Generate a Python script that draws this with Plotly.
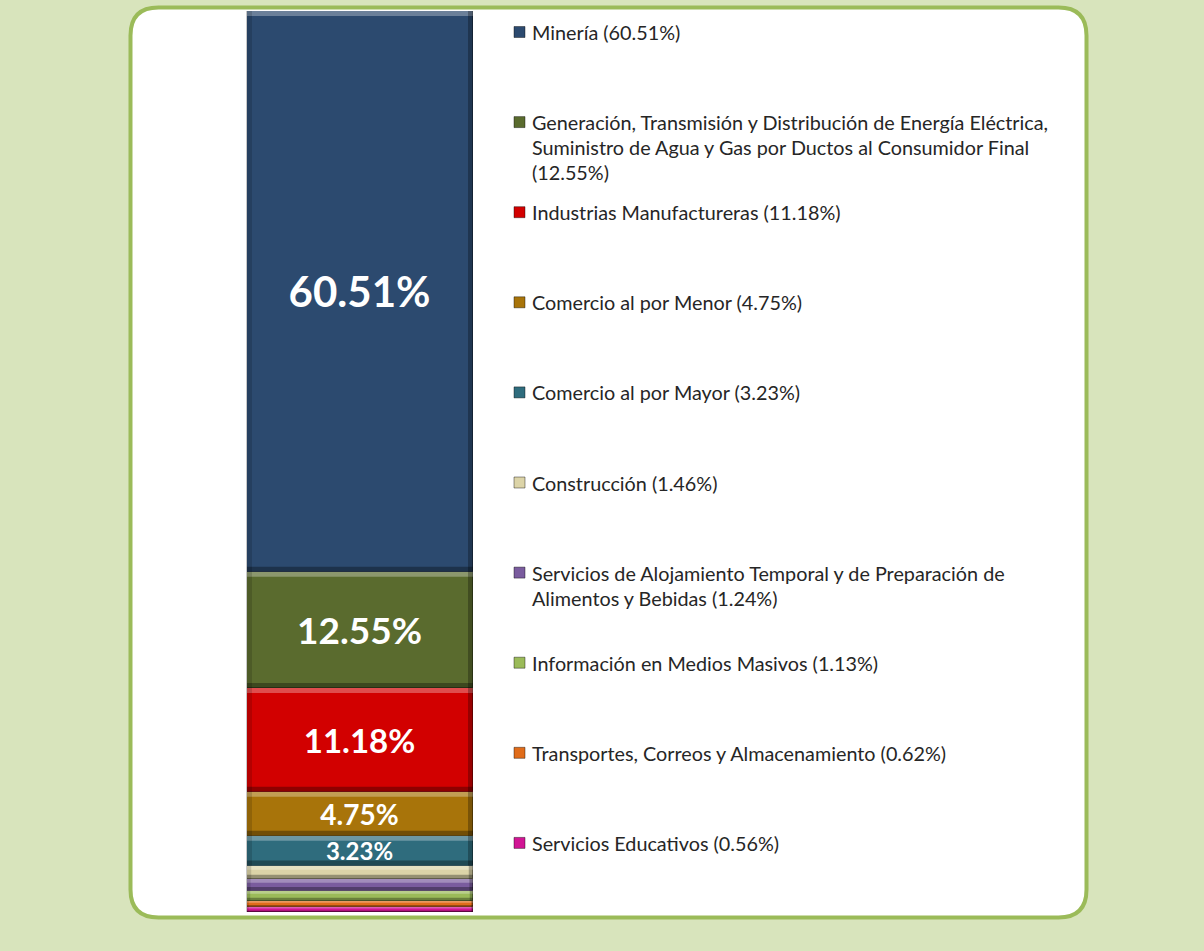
import plotly.graph_objects as go

# Participación por sector (porcentaje), de arriba hacia abajo en la barra
sectores = [
    "Minería",
    "Generación, Transmisión y Distribución de Energía Eléctrica,<br>Suministro de Agua y Gas por Ductos al Consumidor Final<br>",
    "Industrias Manufactureras",
    "Comercio al por Menor",
    "Comercio al por Mayor",
    "Construcción",
    "Servicios de Alojamiento Temporal y de Preparación de<br>Alimentos y Bebidas",
    "Información en Medios Masivos",
    "Transportes, Correos y Almacenamiento",
    "Servicios Educativos",
]
porcentajes = [60.51, 12.55, 11.18, 4.75, 3.23, 1.46, 1.24, 1.13, 0.62, 0.56]
colores = ["#2C4A6F", "#5A6B2E", "#D20000", "#A8740A", "#2F6C7D",
           "#DCD4A8", "#7A5C9E", "#9BBB59", "#E06C1A", "#D11594"]
# tamaño de la etiqueta dentro de cada segmento (None = sin etiqueta)
tam_etiqueta = [42, 37, 33, 28, 24, None, None, None, None, None]

W, H = 1204, 951
ML, MR, MT, MB = 247, 731, 11, 39
PW, PH = W - ML - MR, H - MT - MB

def px_x(px):
    return (px - ML) / PW

def px_y(py):
    return (H - MB - py) / PH

fig = go.Figure()

# la barra se apila desde abajo: se agregan los sectores en orden inverso
for i in reversed(range(len(sectores))):
    v = porcentajes[i]
    size = tam_etiqueta[i]
    fig.add_trace(go.Bar(
        x=["Sector"], y=[v],
        name=sectores[i].replace("<br>", " "),
        marker=dict(color=colores[i], line=dict(color="rgba(0,0,0,0.35)", width=1)),
        width=1,
        text=[f"{v:.2f}%"] if size else None,
        textposition="inside" if size else "none",
        insidetextanchor="middle",
        textfont=dict(family="Lato", size=size or 10, color="white", weight="bold"),
        constraintext="none",
        hovertemplate="%{fullData.name}: %{y:.2f}%<extra></extra>",
        showlegend=False,
    ))

shapes = []

# panel blanco redondeado con borde verde
x0, x1, y0, y1, r = 130.5, 1086.5, 7.5, 917.5, 28
def P(px, py):
    return f"{px_x(px):.5f},{px_y(py):.5f}"
panel = (f"M {P(x0 + r, y0)} L {P(x1 - r, y0)} Q {P(x1, y0)} {P(x1, y0 + r)} "
         f"L {P(x1, y1 - r)} Q {P(x1, y1)} {P(x1 - r, y1)} "
         f"L {P(x0 + r, y1)} Q {P(x0, y1)} {P(x0, y1 - r)} "
         f"L {P(x0, y0 + r)} Q {P(x0, y0)} {P(x0 + r, y0)} Z")
shapes.append(dict(type="path", path=panel, xref="paper", yref="paper",
                   fillcolor="white", line=dict(color="#9BBB59", width=4), layer="below"))

# biselado de cada segmento: brillo arriba, sombra abajo y en los costados
px_por_unidad = PH / sum(porcentajes)
base = 0.0
for i in reversed(range(len(sectores))):
    v = porcentajes[i]
    top = base + v
    b = max(1.5, min(5.0, v * px_por_unidad / 3.2))
    shapes.append(dict(type="rect", xref="paper", yref="y", ysizemode="pixel", yanchor=top,
                       x0=0, x1=1, y0=-b, y1=0, fillcolor="rgba(255,255,255,0.30)",
                       line=dict(width=0), layer="above"))
    shapes.append(dict(type="rect", xref="paper", yref="y", ysizemode="pixel", yanchor=base,
                       x0=0, x1=1, y0=0, y1=b, fillcolor="rgba(0,0,0,0.32)",
                       line=dict(width=0), layer="above"))
    shapes.append(dict(type="rect", xref="paper", yref="y", xsizemode="pixel", xanchor=0,
                       x0=0, x1=b, y0=base, y1=top, fillcolor="rgba(0,0,0,0.14)",
                       line=dict(width=0), layer="above"))
    shapes.append(dict(type="rect", xref="paper", yref="y", xsizemode="pixel", xanchor=1,
                       x0=-b, x1=0, y0=base, y1=top, fillcolor="rgba(0,0,0,0.28)",
                       line=dict(width=0), layer="above"))
    base = top

# leyenda a la derecha de la barra
annotations = []
leg_top, leg_paso, linea = 32, 90.1, 25
for i, (nombre, v, c) in enumerate(zip(sectores, porcentajes, colores)):
    sep = "" if nombre.endswith("<br>") else " "
    etiqueta = f"{nombre}{sep}({v:.2f}%)"
    yc = leg_top + leg_paso * i
    shapes.append(dict(type="rect", xref="paper", yref="paper",
                       x0=px_x(514), x1=px_x(525), y0=px_y(yc - 5.5), y1=px_y(yc + 5.5),
                       fillcolor=c, line=dict(color="rgba(0,0,0,0.4)", width=1)))
    for k, texto in enumerate(etiqueta.split("<br>")):
        annotations.append(dict(
            x=px_x(530), y=px_y(yc + k * linea), xref="paper", yref="paper",
            xanchor="left", yanchor="middle", showarrow=False, text=texto,
            font=dict(family="Lato", size=19.8, color="#262626"),
        ))

fig.update_layout(
    width=W, height=H,
    margin=dict(l=ML, r=MR, t=MT, b=MB),
    barmode="stack", bargap=0,
    paper_bgcolor="#D8E4BC", plot_bgcolor="white",
    xaxis=dict(visible=False),
    yaxis=dict(range=[0, sum(porcentajes)], visible=True, showticklabels=False,
               showgrid=False, zeroline=False, ticks="",
               showline=True, linecolor="#C8C8C8", linewidth=1),
    shapes=shapes, annotations=annotations,
    showlegend=False,
)

fig.write_html("out.html")
